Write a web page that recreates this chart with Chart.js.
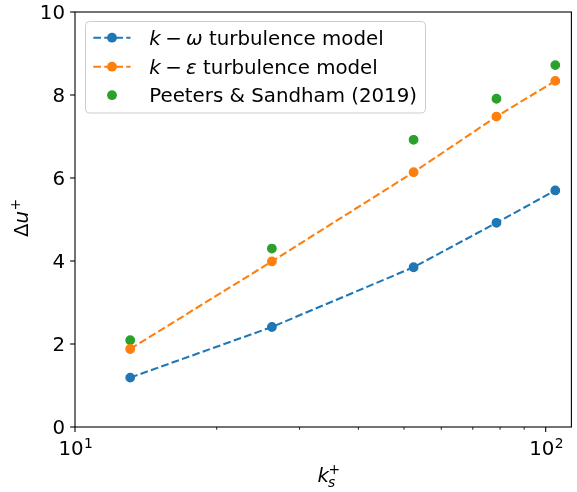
<!DOCTYPE html>
<html>
<head>
<meta charset="utf-8">
<script src="https://cdn.jsdelivr.net/npm/chart.js@4/dist/chart.umd.min.js"></script>
<style>
  html, body { margin: 0; padding: 0; background: #ffffff; }
  #wrap { width: 577px; height: 492px; }
</style>
</head>
<body>
<div id="wrap"><canvas id="c" width="577" height="492"></canvas></div>
<script>
// Roughness Reynolds number and resulting roughness function
const ksPlus = [13.1, 26.2, 52.4, 78.6, 104.8];
const duKOmega = [1.19, 2.41, 3.85, 4.92, 5.70];
const duKEpsilon = [1.88, 3.99, 6.14, 7.48, 8.34];
const duPeeters = [2.09, 4.30, 6.92, 7.91, 8.72];

// Axis ticks
const yTicks = [0, 2, 4, 6, 8, 10];
const xMajorTicks = [10, 100];
const xMajorExponents = ['1', '2'];
const xMinorTicks = [20, 30, 40, 50, 60, 70, 80, 90];

// Legend entries: italic symbol after "k −", then plain text
const legendSymbol = ['\u03C9', '\u03B5', ''];
const legendText = ['turbulence model', 'turbulence model', 'Peeters & Sandham (2019)'];

const BLUE = '#1f77b4', ORANGE = '#ff7f0e', GREEN = '#2ca02c';
const FS = 19.8;
const FONT = `${FS}px "DejaVu Sans"`;
const IFONT = `oblique ${FS}px "DejaVu Sans"`;
const SFONT = `${FS * 0.7}px "DejaVu Sans"`;
const SIFONT = `oblique ${FS * 0.7}px "DejaVu Sans"`;
const DASH = [7.7, 3.3];
const LW = 2.08;

function pts(ys) { return ksPlus.map((x, i) => ({ x: x, y: ys[i] })); }

const axesPlugin = {
  id: 'mplAxes',
  afterDraw(chart) {
    const ctx = chart.ctx;
    const a = chart.chartArea;
    const xs = chart.scales.x, ys = chart.scales.y;
    ctx.save();
    ctx.strokeStyle = '#000';
    ctx.fillStyle = '#000';
    ctx.lineWidth = 1.1;
    // frame
    ctx.strokeRect(a.left, a.top, a.right - a.left, a.bottom - a.top);

    // y ticks and labels
    ctx.font = FONT;
    ctx.textAlign = 'right';
    ctx.textBaseline = 'alphabetic';
    yTicks.forEach(v => {
      const py = ys.getPixelForValue(v);
      ctx.beginPath();
      ctx.moveTo(a.left, py);
      ctx.lineTo(a.left - 4.9, py);
      ctx.stroke();
      ctx.fillText(String(v), a.left - 10, py + 7);
    });

    // x major ticks with power labels
    xMajorTicks.forEach((v, i) => {
      const px = xs.getPixelForValue(v);
      ctx.beginPath();
      ctx.moveTo(px, a.bottom);
      ctx.lineTo(px, a.bottom + 4.9);
      ctx.stroke();
      ctx.font = FONT;
      const wb = ctx.measureText('10').width;
      ctx.font = SFONT;
      const we = ctx.measureText(xMajorExponents[i]).width;
      const x0 = px - (wb + we) / 2 + 0.5;
      ctx.textAlign = 'left';
      ctx.font = FONT;
      ctx.fillText('10', x0, a.bottom + 28);
      ctx.font = SFONT;
      ctx.fillText(xMajorExponents[i], x0 + wb + 0.3, a.bottom + 21);
    });
    // x minor ticks
    ctx.lineWidth = 0.85;
    xMinorTicks.forEach(v => {
      const px = xs.getPixelForValue(v);
      ctx.beginPath();
      ctx.moveTo(px, a.bottom);
      ctx.lineTo(px, a.bottom + 2.8);
      ctx.stroke();
    });

    // x axis title: k_s^+
    {
      const base = 481.7;
      const x0 = 317.5;
      ctx.textAlign = 'left';
      ctx.font = IFONT;
      const wk = ctx.measureText('k').width;
      ctx.fillText('k', x0, base);
      ctx.font = SIFONT;
      ctx.fillText('s', x0 + wk - 1, base + 5.5);
      ctx.font = SFONT;
      ctx.fillText('+', x0 + wk - 0.5, base - 7.5);
    }

    // y axis title: Δu^+
    {
      ctx.save();
      ctx.translate(27.7, 237);
      ctx.rotate(-Math.PI / 2);
      ctx.textAlign = 'left';
      ctx.font = FONT;
      const wd = ctx.measureText('\u0394').width;
      ctx.fillText('\u0394', 0, 0);
      ctx.font = IFONT;
      const wu = ctx.measureText('u').width;
      ctx.fillText('u', wd, 0);
      ctx.font = SFONT;
      ctx.fillText('+', wd + wu + 0.5, -7.5);
      ctx.restore();
    }

    // legend
    {
      const bx = 85.5, by = 21.5, bw = 340, bh = 91.5, r = 4;
      ctx.beginPath();
      ctx.moveTo(bx + r, by);
      ctx.lineTo(bx + bw - r, by);
      ctx.quadraticCurveTo(bx + bw, by, bx + bw, by + r);
      ctx.lineTo(bx + bw, by + bh - r);
      ctx.quadraticCurveTo(bx + bw, by + bh, bx + bw - r, by + bh);
      ctx.lineTo(bx + r, by + bh);
      ctx.quadraticCurveTo(bx, by + bh, bx, by + bh - r);
      ctx.lineTo(bx, by + r);
      ctx.quadraticCurveTo(bx, by, bx + r, by);
      ctx.closePath();
      ctx.fillStyle = 'rgba(255,255,255,0.8)';
      ctx.fill();
      ctx.strokeStyle = '#cccccc';
      ctx.lineWidth = 1;
      ctx.stroke();

      const rows = [37.7, 66.7, 95.2];
      const cols = [BLUE, ORANGE, GREEN];
      const medSpace = FS * 0.222;
      rows.forEach((ry, i) => {
        if (i < 2) {
          ctx.save();
          ctx.strokeStyle = cols[i];
          ctx.lineWidth = LW;
          ctx.setLineDash(DASH);
          ctx.beginPath();
          ctx.moveTo(93.3, ry);
          ctx.lineTo(130.5, ry);
          ctx.stroke();
          ctx.restore();
        }
        ctx.beginPath();
        ctx.arc(112, ry, 4.9, 0, Math.PI * 2);
        ctx.fillStyle = cols[i];
        ctx.fill();

        const bl = ry + 7;
        ctx.fillStyle = '#000';
        ctx.textAlign = 'left';
        let tx = 149.3;
        if (legendSymbol[i]) {
          ctx.font = IFONT;
          ctx.fillText('k', tx, bl);
          tx += ctx.measureText('k').width + medSpace;
          ctx.font = FONT;
          ctx.fillText('\u2212', tx, bl);
          tx += ctx.measureText('\u2212').width + medSpace;
          ctx.font = IFONT;
          ctx.fillText(legendSymbol[i], tx, bl);
          tx += ctx.measureText(legendSymbol[i]).width;
          ctx.font = FONT;
          tx += ctx.measureText(' ').width;
        }
        ctx.font = FONT;
        ctx.fillText(legendText[i], tx, bl);
      });
    }
    ctx.restore();
  }
};

new Chart(document.getElementById('c'), {
  type: 'line',
  data: {
    datasets: [
      {
        label: 'k-omega', data: pts(duKOmega),
        borderColor: BLUE, backgroundColor: BLUE,
        borderWidth: LW, borderDash: DASH,
        pointRadius: 4.2, pointBorderWidth: 1.4,
        pointBackgroundColor: BLUE, pointBorderColor: BLUE,
        tension: 0, fill: false
      },
      {
        label: 'k-epsilon', data: pts(duKEpsilon),
        borderColor: ORANGE, backgroundColor: ORANGE,
        borderWidth: LW, borderDash: DASH,
        pointRadius: 4.2, pointBorderWidth: 1.4,
        pointBackgroundColor: ORANGE, pointBorderColor: ORANGE,
        tension: 0, fill: false
      },
      {
        label: 'Peeters & Sandham (2019)', data: pts(duPeeters),
        showLine: false,
        borderColor: GREEN, backgroundColor: GREEN,
        pointRadius: 4.2, pointBorderWidth: 1.4,
        pointBackgroundColor: GREEN, pointBorderColor: GREEN
      }
    ]
  },
  options: {
    responsive: false,
    animation: false,
    devicePixelRatio: 1,
    layout: { padding: { left: 75, right: 1, top: 12, bottom: 65 } },
    plugins: { legend: { display: false }, tooltip: { enabled: false } },
    scales: {
      x: { type: 'logarithmic', min: 10, max: 113.4, display: false },
      y: { type: 'linear', min: 0, max: 10, display: false }
    }
  },
  plugins: [axesPlugin]
});
</script>
</body>
</html>
